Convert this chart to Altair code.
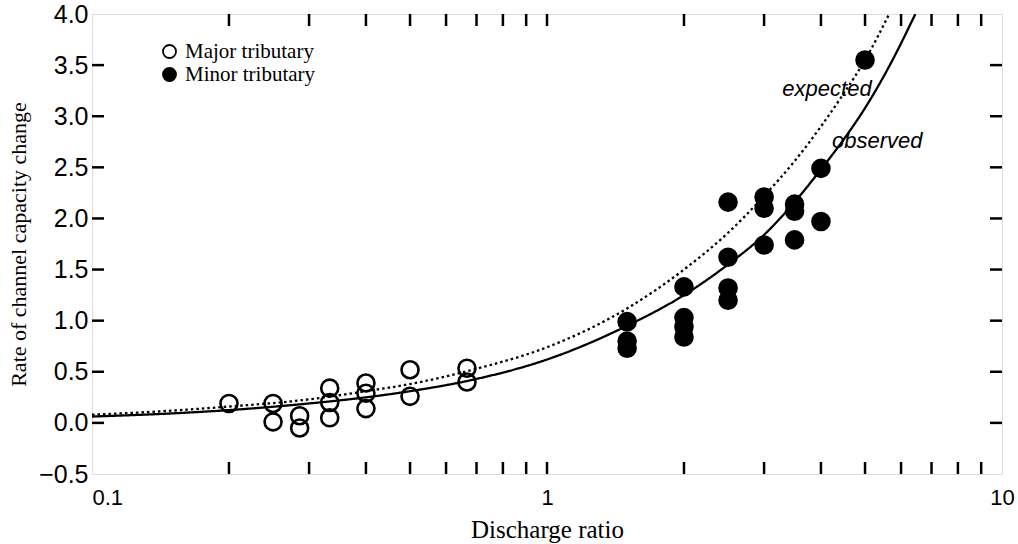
import altair as alt
import pandas as pd

# ---- data ----
major_x = [0.2, 0.25, 0.25, 0.286, 0.286, 0.333, 0.333, 0.333, 0.4, 0.4, 0.4, 0.5, 0.5, 0.667, 0.667]
major_y = [0.19, 0.19, 0.01, 0.07, -0.05, 0.34, 0.20, 0.05, 0.39, 0.29, 0.14, 0.52, 0.26, 0.535, 0.40]

minor_x = [1.5, 1.5, 1.5, 2.0, 2.0, 2.0, 2.0, 2.5, 2.5, 2.5, 2.5, 3.0, 3.0, 3.0, 3.5, 3.5, 3.5, 4.0, 4.0, 5.0]
minor_y = [0.99, 0.80, 0.73, 1.33, 1.03, 0.94, 0.84, 2.16, 1.62, 1.32, 1.20, 2.21, 2.10, 1.74, 2.14, 2.07, 1.79, 2.49, 1.97, 3.55]

obs_x = [0.1, 0.15, 0.2, 0.3, 0.4, 0.5, 0.7, 1.0, 1.5, 2.0, 2.5, 3.0, 3.5, 4.0, 4.5, 5.0, 5.7, 6.45]
obs_y = [0.062, 0.093, 0.125, 0.19, 0.25, 0.31, 0.43, 0.62, 0.95, 1.25, 1.55, 1.84, 2.16, 2.48, 2.78, 3.08, 3.52, 4.0]

exp_x = [0.1, 0.15, 0.2, 0.3, 0.4, 0.5, 0.7, 1.0, 1.5, 2.0, 2.5, 3.0, 3.5, 4.0, 4.5, 5.0, 5.65]
exp_y = [0.08, 0.12, 0.16, 0.23, 0.31, 0.38, 0.53, 0.74, 1.12, 1.50, 1.86, 2.22, 2.56, 2.90, 3.23, 3.55, 4.0]

ann_text = ["expected", "observed"]
ann_x = [3.29, 4.23]
ann_y = [3.27, 2.76]

x_label_vals = [0.1, 1, 10]
y_label_vals = [-0.5, 0.0, 0.5, 1.0, 1.5, 2.0, 2.5, 3.0, 3.5, 4.0]
x_tick_vals = [0.2, 0.3, 0.4, 0.5, 0.6, 0.7, 0.8, 0.9, 1, 2, 3, 4, 5, 6, 7, 8, 9]
y_tick_vals = [0.0, 0.5, 1.0, 1.5, 2.0, 2.5, 3.0, 3.5]

W, H = 910, 460
TL = 12

pts = pd.DataFrame({
    "x": major_x + minor_x,
    "y": major_y + minor_y,
    "series": ["Major tributary"] * len(major_x) + ["Minor tributary"] * len(minor_x),
})
curves = pd.DataFrame({
    "x": obs_x + exp_x,
    "y": obs_y + exp_y,
    "curve": ["observed"] * len(obs_x) + ["expected"] * len(exp_x),
})
ann = pd.DataFrame({"text": ann_text, "x": ann_x, "y": ann_y})
xt = pd.DataFrame({"t": x_tick_vals})
yt = pd.DataFrame({"t": y_tick_vals})

xscale = alt.Scale(type="log", domain=[0.1, 10], nice=False)
yscale = alt.Scale(domain=[-0.5, 4.0], nice=False, zero=False)

xaxis = alt.Axis(
    values=x_label_vals, format="~g", grid=False, ticks=False, domain=False,
    labelFont="Liberation Sans", labelFontSize=22, labelColor="black", labelPadding=13,
    labelAlign=alt.expr("datum.value == 0.1 ? 'left' : 'center'"),
    title="Discharge ratio", titleFont="Liberation Serif", titleFontWeight="normal",
    titleFontSize=25, titleColor="black", titleY=55, titleBaseline="middle",
)
yaxis = alt.Axis(
    values=y_label_vals, format=".1f", grid=False, ticks=False, domain=False,
    labelFont="Liberation Sans", labelFontSize=25, labelColor="black", labelPadding=4,
    title="Rate of channel capacity change", titleFont="Liberation Serif",
    titleFontWeight="normal", titleFontSize=22, titleColor="black",
    titleX=-74, titleBaseline="middle",
)

X = alt.X("x:Q", scale=xscale, axis=xaxis)
Y = alt.Y("y:Q", scale=yscale, axis=yaxis)

lines = alt.Chart(curves).mark_line(clip=True, color="black", strokeWidth=2.3, interpolate="monotone").encode(
    x=X, y=Y,
    strokeDash=alt.StrokeDash("curve:N", scale=alt.Scale(domain=["observed", "expected"], range=[[1, 0], [2.5, 3]]), legend=None),
    detail="curve:N",
)

points = alt.Chart(pts).mark_point(shape="circle", filled=True, stroke="black", strokeWidth=2.6, size=290, opacity=1).encode(
    x=alt.X("x:Q", scale=xscale),
    y=alt.Y("y:Q", scale=yscale),
    fill=alt.Fill("series:N", scale=alt.Scale(domain=["Major tributary", "Minor tributary"], range=["rgba(255,255,255,0)", "black"]),
                  legend=alt.Legend(title=None, orient="none", legendX=67, legendY=27, padding=0,
                                    symbolType="circle", symbolSize=170, symbolStrokeColor="black",
                                    symbolStrokeWidth=1.8, labelFont="Liberation Serif", labelFontSize=21,
                                    labelColor="black", labelOffset=5, rowPadding=1)),
)

texts = alt.Chart(ann).mark_text(font="Liberation Sans", fontStyle="italic", fontSize=22, align="left", baseline="middle", color="black").encode(
    x=alt.X("x:Q", scale=xscale), y=alt.Y("y:Q", scale=yscale), text="text:N"
)

tick_style = dict(color="black", strokeWidth=2.5)
xt_bot = alt.Chart(xt).mark_rule(**tick_style).encode(x=alt.X("t:Q", scale=xscale), y=alt.value(H), y2=alt.value(H - TL))
xt_top = alt.Chart(xt).mark_rule(**tick_style).encode(x=alt.X("t:Q", scale=xscale), y=alt.value(0), y2=alt.value(TL))
yt_left = alt.Chart(yt).mark_rule(**tick_style).encode(y=alt.Y("t:Q", scale=yscale), x=alt.value(0), x2=alt.value(TL))
yt_right = alt.Chart(yt).mark_rule(**tick_style).encode(y=alt.Y("t:Q", scale=yscale), x=alt.value(W), x2=alt.value(W - TL))

chart = alt.layer(lines, points, texts, xt_bot, xt_top, yt_left, yt_right).properties(
    width=W, height=H,
    padding={"left": 92, "top": 14, "right": 16, "bottom": 70},
    autosize=alt.AutoSizeParams(type="none"),
).configure_view(stroke="black", strokeWidth=2.6).configure(background="white")

chart.save("out.html", embed_options={"renderer": "svg", "actions": False})
